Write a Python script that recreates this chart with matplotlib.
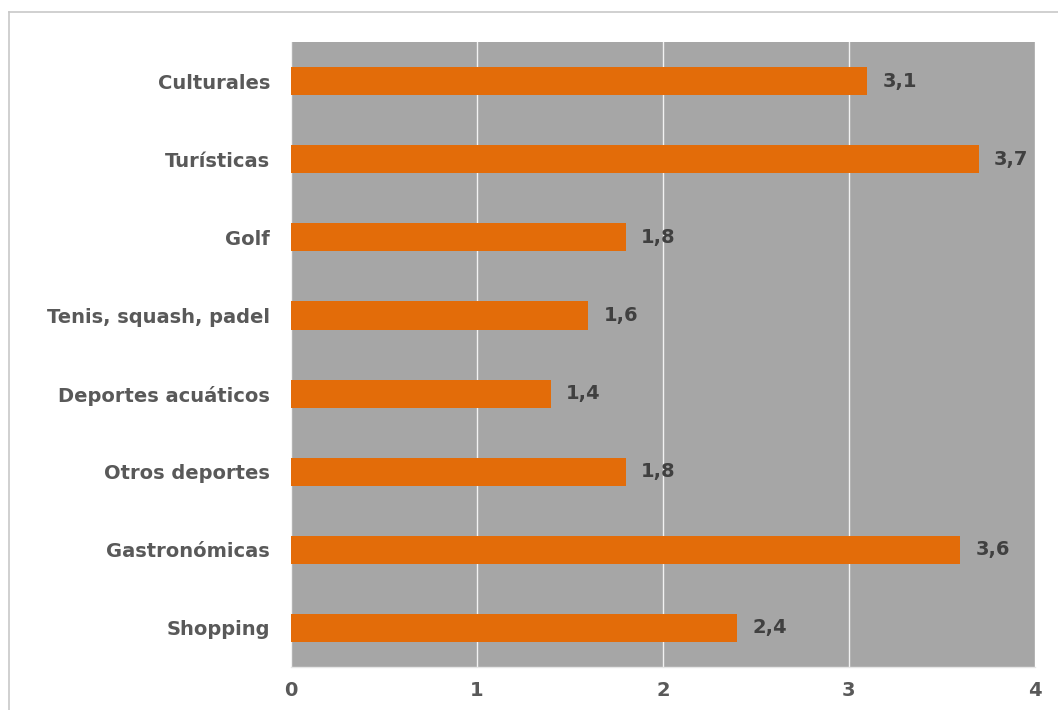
import matplotlib
matplotlib.use("Agg")
import matplotlib.pyplot as plt
from matplotlib.lines import Line2D

categories = ["Culturales", "Turísticas", "Golf", "Tenis, squash, padel",
              "Deportes acuáticos", "Otros deportes", "Gastronómicas", "Shopping"]
values = [3.1, 3.7, 1.8, 1.6, 1.4, 1.8, 3.6, 2.4]
x_ticks = [0, 1, 2, 3, 4]

BAR_COLOR = "#e36c09"
BG_COLOR = "#a6a6a6"
TEXT_COLOR = "#595959"
VALUE_COLOR = "#404040"
FS = 14

plt.rcParams["font.family"] = ["DejaVu Sans"]

fig = plt.figure(figsize=(10.58, 7.10), dpi=100)
ax = fig.add_axes([0.275, 0.0606, 0.703, 0.880])
ax.set_facecolor(BG_COLOR)

pos = list(range(len(categories)))
ax.barh(pos, values, height=0.36, color=BAR_COLOR, zorder=3)

for p, v in zip(pos, values):
    ax.text(v + 0.08, p, f"{v:.1f}".replace(".", ","), va="center", ha="left",
            fontsize=FS, fontweight="bold", color=VALUE_COLOR, zorder=4)

ax.set_xlim(0, 4)
ax.set_ylim(len(categories) - 0.5, -0.5)
ax.set_xticks(x_ticks)
ax.set_xticklabels([str(t) for t in x_ticks])
ax.set_yticks(pos)
ax.set_yticklabels(categories)
ax.tick_params(axis="both", length=0, colors=TEXT_COLOR, labelsize=FS)
ax.tick_params(axis="x", pad=10)
ax.tick_params(axis="y", pad=15)
for lbl in ax.get_xticklabels() + ax.get_yticklabels():
    lbl.set_fontweight("bold")

ax.grid(axis="x", color="#f2f2f2", linewidth=1.0, zorder=1)
for side in ["top", "right", "left"]:
    ax.spines[side].set_visible(False)
ax.spines["bottom"].set_color("#e6e6e6")
ax.spines["bottom"].set_linewidth(1.0)

# outer chart frame (top and left edges)
fig.add_artist(Line2D([9 / 1058, 1.0], [1 - 12 / 710, 1 - 12 / 710],
                      transform=fig.transFigure, color="#c8c8c8", linewidth=1.2))
fig.add_artist(Line2D([9 / 1058, 9 / 1058], [0.0, 1 - 12 / 710],
                      transform=fig.transFigure, color="#c8c8c8", linewidth=1.2))

fig.savefig("out.png", dpi=100, facecolor="white")
